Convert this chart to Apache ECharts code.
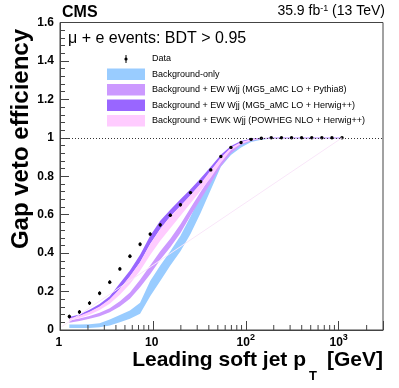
<!DOCTYPE html>
<html>
<head>
<meta charset="utf-8">
<script src="https://cdn.jsdelivr.net/npm/echarts@6/dist/echarts.min.js"></script>
<style>
html, body { margin: 0; padding: 0; background: #fff; }
#chart { width: 399px; height: 388px; }
</style>
</head>
<body>
<div id="chart"></div>
<script>
// leading soft jet pT bin centres [GeV]
var ptBins = [1.26, 1.62, 2.08, 2.67, 3.43, 4.41, 5.66, 7.28, 9.35, 12.0, 15.4, 19.8, 25.4, 32.7,
  42.0, 53.9, 69.2, 88.9, 114, 147, 188, 242, 311, 399, 513, 659, 846, 1086];

// data
var dataEff = [0.070, 0.094, 0.140, 0.191, 0.249, 0.318, 0.384, 0.446, 0.499, 0.547, 0.597, 0.652, 0.715, 0.772,
  0.833, 0.903, 0.950, 0.976, 0.992, 0.998, 1.0, 1.0, 1.0, 1.0, 1.0, 1.0, 1.0, 1.0];
var dataErr = [0.010, 0.010, 0.010, 0.010, 0.010, 0.010, 0.010, 0.010, 0.010, 0.010, 0.009, 0.009, 0.008, 0.008,
  0.007, 0.006, 0.005, 0.004, 0.003, 0.002, 0.002, 0.002, 0.002, 0.002, 0.002, 0.002, 0.002, 0.002];

// Background-only
var bkgLo = [0.010, 0.010, 0.011, 0.014, 0.024, 0.040, 0.058, 0.085, 0.175, 0.255, 0.335, 0.410, 0.500, 0.610,
  0.730, 0.850, 0.910, 0.950, 0.978, 0.990, 0.996, 0.998, 0.998, 0.998, 0.998, 0.998, 0.998, 0.998];
var bkgHi = [0.028, 0.028, 0.030, 0.035, 0.054, 0.078, 0.102, 0.142, 0.255, 0.335, 0.410, 0.490, 0.590, 0.700,
  0.810, 0.900, 0.952, 0.978, 0.992, 0.998, 1.0, 1.0, 1.0, 1.0, 1.0, 1.0, 1.0, 1.0];

// Background + EW Wjj (MG5_aMC LO + Pythia8)
var pyLo = [0.038, 0.047, 0.058, 0.072, 0.092, 0.122, 0.162, 0.222, 0.290, 0.365, 0.430, 0.505, 0.595, 0.680,
  0.765, 0.852, 0.918, 0.962, 0.984, 0.994, 0.998, 0.998, 0.998, 0.998, 0.998, 0.998, 0.998, 0.998];
var pyHi = [0.050, 0.060, 0.073, 0.090, 0.113, 0.150, 0.195, 0.262, 0.335, 0.410, 0.475, 0.550, 0.635, 0.720,
  0.800, 0.878, 0.940, 0.975, 0.992, 0.998, 1.0, 1.0, 1.0, 1.0, 1.0, 1.0, 1.0, 1.0];

// Background + EW Wjj (MG5_aMC LO + Herwig++)
var hwLo = [0.057, 0.070, 0.092, 0.120, 0.158, 0.213, 0.278, 0.352, 0.448, 0.525, 0.590, 0.645, 0.700, 0.760,
  0.828, 0.895, 0.947, 0.976, 0.990, 0.996, 0.998, 0.998, 0.998, 0.998, 0.998, 0.998, 0.998, 0.998];
var hwHi = [0.067, 0.081, 0.105, 0.135, 0.176, 0.243, 0.310, 0.392, 0.490, 0.568, 0.626, 0.680, 0.732, 0.790,
  0.850, 0.912, 0.958, 0.983, 0.995, 0.999, 1.0, 1.0, 1.0, 1.0, 1.0, 1.0, 1.0, 1.0];

// Background + EWK Wjj (POWHEG NLO + Herwig++)
var phLo = [0.050, 0.062, 0.080, 0.104, 0.137, 0.183, 0.240, 0.308, 0.390, 0.465, 0.530, 0.595, 0.660, 0.725,
  0.792, 0.870, 0.935, 0.968, 0.986, 0.995, 0.998, 0.998, 0.998, 0.998, 0.998, 0.998, 0.998, 0.998];
var phHi = [0.060, 0.074, 0.095, 0.122, 0.160, 0.215, 0.280, 0.352, 0.448, 0.525, 0.590, 0.645, 0.702, 0.762,
  0.830, 0.898, 0.950, 0.978, 0.993, 0.998, 1.0, 1.0, 1.0, 1.0, 1.0, 1.0, 1.0, 1.0];

// faint closing line of one of the bands
var edgeX = [1.04, 1086];
var edgeY = [0.017, 1.0];

var xMinorTicks = [2, 3, 4, 5, 6, 7, 8, 9, 20, 30, 40, 50, 60, 70, 80, 90,
  200, 300, 400, 500, 600, 700, 800, 900, 2000];

var legendNames = ['Background-only',
  'Background + EW Wjj (MG5_aMC LO + Pythia8)',
  'Background + EW Wjj (MG5_aMC LO + Herwig++)',
  'Background + EWK Wjj (POWHEG NLO + Herwig++)'];
var bandColors = ['#99ccff', '#cc99ff', '#9966ff', '#ffccff'];

var FONT = '"Liberation Sans", Arial, Helvetica, sans-serif';

function bandSeries(name, lo, hi, color) {
  var rows = [];
  for (var i = 0; i < ptBins.length; i++) rows.push([ptBins[i], lo[i], hi[i]]);
  return {
    name: name,
    type: 'custom',
    coordinateSystem: 'cartesian2d',
    silent: true,
    data: rows,
    encode: { x: 0, y: [1, 2] },
    renderItem: function (params, api) {
      if (params.dataIndex !== 0) return;
      var top = [], bot = [];
      for (var i = 0; i < rows.length; i++) {
        top.push(api.coord([rows[i][0], rows[i][2]]));
        bot.unshift(api.coord([rows[i][0], rows[i][1]]));
      }
      return { type: 'polygon', shape: { points: top.concat(bot) }, style: { fill: color } };
    }
  };
}

var pointRows = [];
for (var i = 0; i < ptBins.length; i++) pointRows.push([ptBins[i], dataEff[i], dataErr[i]]);

var tickRows = xMinorTicks.map(function (v) { return [v, 0]; });

var chart = echarts.init(document.getElementById('chart'), null, { renderer: 'canvas' });

var axisColor = '#444';

var option = {
  animation: false,
  grid: { left: 60, right: 16, top: 22.5, bottom: 58, show: true, borderColor: axisColor, borderWidth: 1 },
  xAxis: {
    type: 'log',
    logBase: 10,
    min: 1,
    max: 3000,
    interval: 1,
    axisLine: { show: true, lineStyle: { color: axisColor, width: 1 } },
    axisTick: { show: true, inside: true, length: 9, lineStyle: { color: axisColor } },
    splitLine: { show: false },
    axisLabel: {
      margin: 3,
      color: '#000',
      fontFamily: FONT,
      fontWeight: 'bold',
      fontSize: 12,
      formatter: function (v) {
        if (Math.abs(v - 1) < 1e-6) return '1{s| }';
        if (Math.abs(v - 10) < 1e-6) return '10{s| }';
        if (Math.abs(v - 100) < 1e-4) return '10{s|2}';
        if (Math.abs(v - 1000) < 1e-3) return '10{s|3}';
        return '';
      },
      rich: {
        s: { fontSize: 9, fontWeight: 'bold', fontFamily: FONT, color: '#000', verticalAlign: 'top', padding: [0, 0, 11, 0] }
      }
    }
  },
  yAxis: {
    type: 'value',
    min: 0,
    max: 1.6,
    interval: 0.2,
    axisLine: { show: true, lineStyle: { color: axisColor, width: 1 } },
    axisTick: { show: true, inside: true, length: 9, lineStyle: { color: axisColor } },
    minorTick: { show: true, splitNumber: 5, length: 5, lineStyle: { color: axisColor } },
    splitLine: { show: false },
    axisLabel: { margin: 6, color: '#000', fontFamily: FONT, fontWeight: 'bold', fontSize: 12 }
  },
  series: [
    bandSeries(legendNames[0], bkgLo, bkgHi, bandColors[0]),
    bandSeries(legendNames[1], pyLo, pyHi, bandColors[1]),
    bandSeries(legendNames[2], hwLo, hwHi, bandColors[2]),
    bandSeries(legendNames[3], phLo, phHi, bandColors[3]),
    {
      type: 'line',
      silent: true,
      symbol: 'none',
      data: [[edgeX[0], edgeY[0]], [edgeX[1], edgeY[1]]],
      lineStyle: { color: '#f9e6f9', width: 1 },
      markLine: {
        silent: true,
        symbol: 'none',
        label: { show: false },
        lineStyle: { type: [1, 2], color: '#333', width: 1 },
        data: [{ yAxis: 1 }]
      }
    },
    {
      // log minor ticks on x
      type: 'custom',
      silent: true,
      data: tickRows,
      renderItem: function (params, api) {
        var p = api.coord([api.value(0), 0]);
        return { type: 'line', shape: { x1: p[0], y1: p[1], x2: p[0], y2: p[1] - 5 }, style: { stroke: axisColor, lineWidth: 1 } };
      }
    },
    {
      name: 'Data',
      type: 'custom',
      silent: true,
      data: pointRows,
      encode: { x: 0, y: 1 },
      renderItem: function (params, api) {
        var x = api.value(0), y = api.value(1), e = api.value(2);
        var p = api.coord([x, y]);
        var hi = api.coord([x, y + e]);
        var lo = api.coord([x, y - e]);
        return {
          type: 'group',
          children: [
            { type: 'line', shape: { x1: p[0], y1: hi[1], x2: p[0], y2: lo[1] }, style: { stroke: '#000', lineWidth: 1 } },
            { type: 'circle', shape: { cx: p[0], cy: p[1], r: 1.7 }, style: { fill: '#000' } }
          ]
        };
      }
    }
  ],
  graphic: []
};

var g = option.graphic;
function txt(x, y, text, font, align, extra) {
  var el = { type: 'text', x: x, y: y, silent: true,
    style: { text: text, font: font, fill: '#000', align: align, verticalAlign: 'middle',
      textAlign: align, textVerticalAlign: 'middle' } };
  if (extra) for (var k in extra) el[k] = extra[k];
  return el;
}

// header
g.push(txt(62, 12.5, 'CMS', 'bold 16px ' + FONT, 'left'));
var lumi = txt(385, 11, '35.9 fb{sup|-1} (13 TeV)', '14px ' + FONT, 'right');
lumi.style.rich = { sup: { fontSize: 9, fontFamily: FONT, verticalAlign: 'top' } };
g.push(lumi);
g.push(txt(68, 39, 'μ + e events: BDT > 0.95', '16px ' + FONT, 'left'));

// legend
g.push({ type: 'line', silent: true, shape: { x1: 126, y1: 55, x2: 126, y2: 63 }, style: { stroke: '#000', lineWidth: 1 } });
g.push({ type: 'circle', silent: true, shape: { cx: 126, cy: 59, r: 1.6 }, style: { fill: '#000' } });
g.push(txt(152, 59, 'Data', '9px ' + FONT, 'left'));
var rowY = [74.2, 89.7, 105.2, 120.7];
for (var r = 0; r < 4; r++) {
  g.push({ type: 'rect', silent: true, shape: { x: 107, y: rowY[r] - 5.75, width: 38, height: 11.5 }, style: { fill: bandColors[r] } });
  g.push(txt(152, rowY[r], legendNames[r], '9px ' + FONT, 'left'));
}

// axis titles
g.push(txt(21, 29, 'Gap veto efficiency', 'bold 24px ' + FONT, 'right', { rotation: Math.PI / 2 }));
g.push(txt(306, 360.5, 'Leading soft jet p', 'bold 21px ' + FONT, 'right'));
g.push(txt(309, 376, 'T', 'bold 13px ' + FONT, 'left'));
g.push(txt(383, 360.5, '[GeV]', 'bold 21px ' + FONT, 'right'));

chart.setOption(option);
</script>
</body>
</html>
